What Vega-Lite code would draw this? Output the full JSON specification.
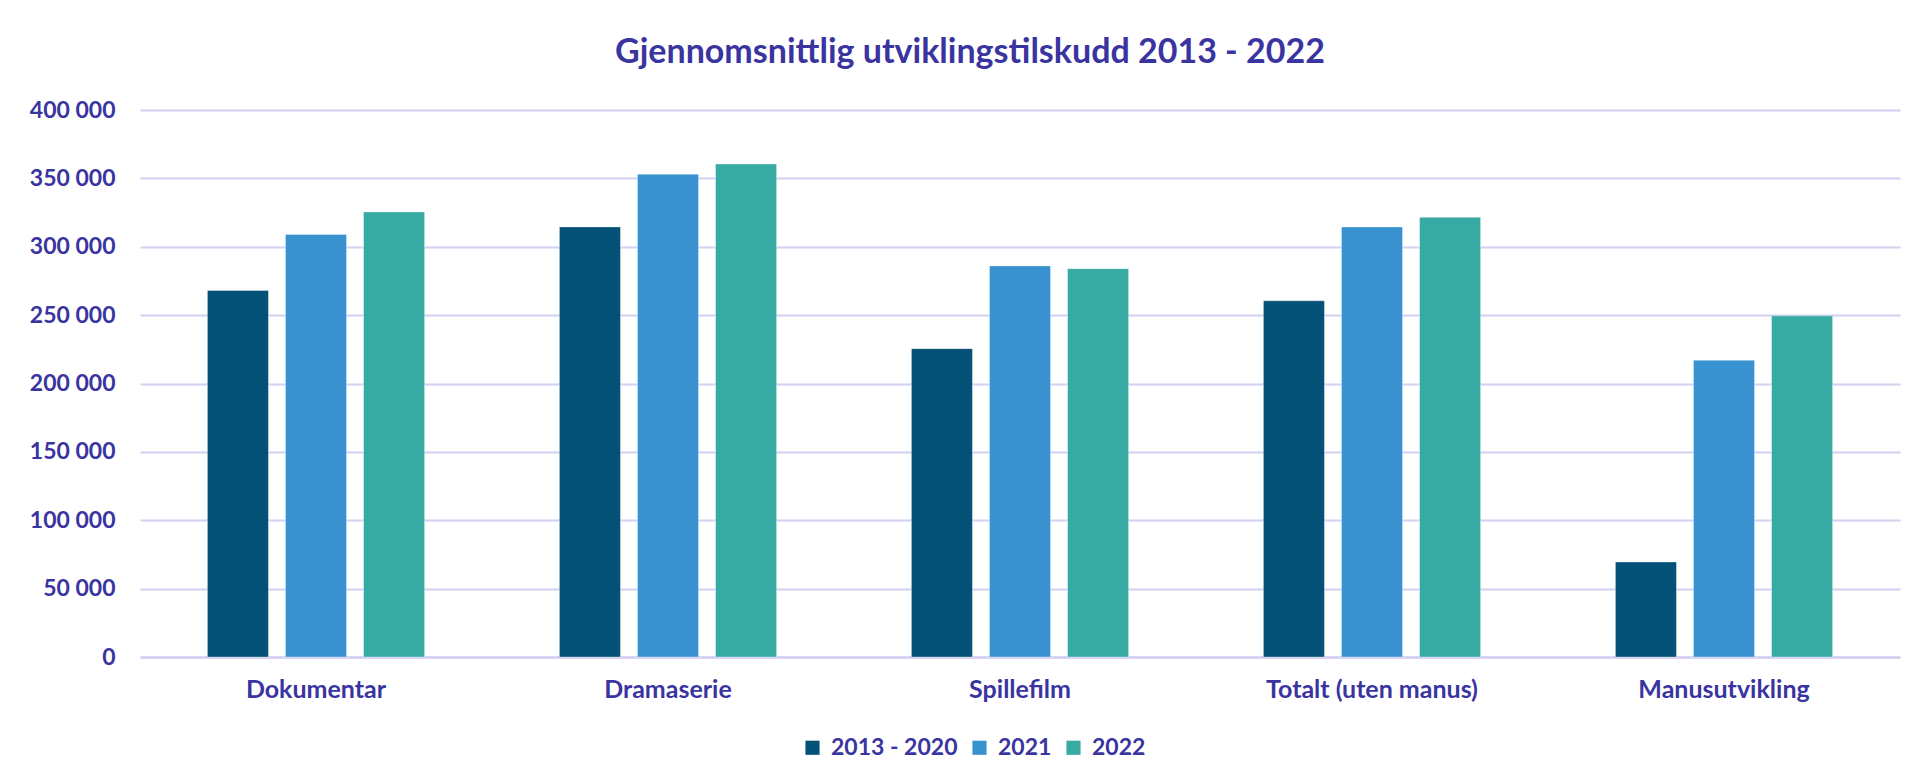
{
  "$schema": "https://vega.github.io/schema/vega-lite/v6.json",
  "width": 1760,
  "height": 547,
  "autosize": {"type": "none"},
  "padding": {"left": 140, "top": 110, "right": 14, "bottom": 125},
  "background": "white",
  "title": {
    "text": "Gjennomsnittlig utviklingstilskudd 2013 - 2022",
    "font": "Lato",
    "fontSize": 34,
    "fontWeight": "bold",
    "color": "#3A34A0",
    "anchor": "middle",
    "baseline": "middle",
    "offset": 12,
    "dx": -50
  },
  "config": {
    "view": {"stroke": null},
    "font": "Lato"
  },
  "data": {
    "values": [
      {"kategori": "Dokumentar", "periode": "2013 - 2020", "verdi": 268000},
      {"kategori": "Dokumentar", "periode": "2021", "verdi": 309000},
      {"kategori": "Dokumentar", "periode": "2022", "verdi": 325500},
      {"kategori": "Dramaserie", "periode": "2013 - 2020", "verdi": 314500},
      {"kategori": "Dramaserie", "periode": "2021", "verdi": 353000},
      {"kategori": "Dramaserie", "periode": "2022", "verdi": 360500},
      {"kategori": "Spillefilm", "periode": "2013 - 2020", "verdi": 225500},
      {"kategori": "Spillefilm", "periode": "2021", "verdi": 286000},
      {"kategori": "Spillefilm", "periode": "2022", "verdi": 284000},
      {"kategori": "Totalt (uten manus)", "periode": "2013 - 2020", "verdi": 260500},
      {"kategori": "Totalt (uten manus)", "periode": "2021", "verdi": 314500},
      {"kategori": "Totalt (uten manus)", "periode": "2022", "verdi": 321500},
      {"kategori": "Manusutvikling", "periode": "2013 - 2020", "verdi": 69500},
      {"kategori": "Manusutvikling", "periode": "2021", "verdi": 217000},
      {"kategori": "Manusutvikling", "periode": "2022", "verdi": 249500}
    ]
  },
  "mark": {"type": "bar", "stroke": "white", "strokeWidth": 0.6, "strokeOpacity": 0.6},
  "encoding": {
    "x": {
      "field": "kategori",
      "type": "nominal",
      "sort": ["Dokumentar", "Dramaserie", "Spillefilm", "Totalt (uten manus)", "Manusutvikling"],
      "scale": {"paddingInner": 0.383, "paddingOuter": 0.1915},
      "axis": {
        "title": null,
        "labelAngle": 0,
        "labelLimit": 0,
        "labelFont": "Lato",
        "labelFontSize": 25,
        "labelFontWeight": "bold",
        "labelColor": "#3A34A0",
        "labelPadding": 20,
        "ticks": false,
        "domain": true,
        "domainColor": "#D3CFF0",
        "domainWidth": 2.5,
        "grid": false
      }
    },
    "xOffset": {
      "field": "periode",
      "type": "nominal",
      "sort": ["2013 - 2020", "2021", "2022"],
      "scale": {"paddingInner": 0.218, "paddingOuter": 0}
    },
    "y": {
      "field": "verdi",
      "type": "quantitative",
      "scale": {"domain": [0, 400000], "nice": false},
      "axis": {
        "title": null,
        "values": [0, 50000, 100000, 150000, 200000, 250000, 300000, 350000, 400000],
        "labelExpr": "datum.value == 0 ? '0' : format(datum.value / 1000, 'd') + ' 000'",
        "labelFont": "Lato",
        "labelFontSize": 23,
        "labelFontWeight": "bold",
        "labelColor": "#3A34A0",
        "labelPadding": 25,
        "ticks": false,
        "domain": false,
        "grid": true,
        "gridColor": "#D3CFF0",
        "gridWidth": 2
      }
    },
    "color": {
      "field": "periode",
      "type": "nominal",
      "sort": ["2013 - 2020", "2021", "2022"],
      "scale": {"domain": ["2013 - 2020", "2021", "2022"], "range": ["#035176", "#3792CF", "#36AAA3"]},
      "legend": {
        "title": null,
        "orient": "none",
        "direction": "horizontal",
        "legendX": 661,
        "legendY": 626,
        "symbolType": "square",
        "symbolSize": 200,
        "symbolStrokeWidth": 0,
        "labelFont": "Lato",
        "labelFontSize": 23,
        "labelFontWeight": "bold",
        "labelColor": "#3A34A0",
        "labelOffset": 7,
        "columnSpacing": 26
      }
    }
  }
}
